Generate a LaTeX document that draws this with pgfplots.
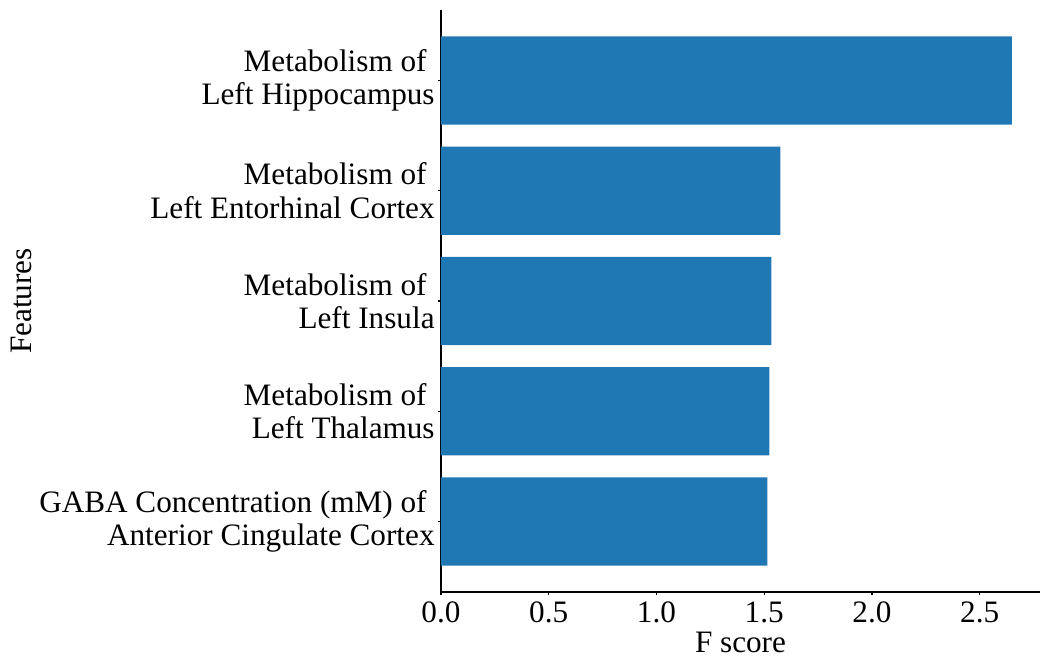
\documentclass[border=0pt]{standalone}
\usepackage{fontspec}
\setmainfont{Liberation Serif}
\usepackage{pgfplots}
\pgfplotsset{compat=1.18}
\definecolor{mplblue}{HTML}{1F77B4}
\newcommand{\lblfont}{\fontsize{15.6}{16.7}\selectfont}
\begin{document}
\begin{tikzpicture}
\begin{axis}[
  at={(0,0)}, anchor=south west,
  scale only axis,
  width=299.5pt, height=291pt,
  xmin=0, xmax=2.78,
  ymin=-0.64, ymax=4.64,
  axis lines*=left,
  axis line style={line width=0.6pt},
  xtick={0,0.5,1,1.5,2,2.5},
  xticklabels={0.0,0.5,1.0,1.5,2.0,2.5},
  ytick={0,1,2,3,4},
  yticklabels={
    {GABA Concentration (mM) of\kern4pt\\Anterior Cingulate Cortex},
    {Metabolism of\kern4pt\\Left Thalamus},
    {Metabolism of\kern4pt\\Left Insula},
    {Metabolism of\kern4pt\\Left Entorhinal Cortex},
    {Metabolism of\kern4pt\\Left Hippocampus}},
  yticklabel style={align=right, font=\lblfont, inner xsep=1.5pt},
  xticklabel style={font=\lblfont, inner sep=3.2pt},
  /pgf/number format/assume math mode=true,
  tick align=outside,
  tick pos=left,
  major tick length=1.5pt,
  tick style={line width=0.6pt, black},
  xlabel={F score},
  ylabel={Features},
  every axis x label/.style={at={(axis description cs:0.5,0)}, anchor=base, yshift=-30.5pt, font=\lblfont},
  every axis y label/.style={at={(axis description cs:-0.7012,0.5)}, rotate=90, anchor=center, font=\lblfont},
  xbar, bar width=0.8, bar shift=0pt,
]
\addplot[fill=mplblue, draw=none] coordinates {
  (2.649,4) (1.575,3) (1.533,2) (1.524,1) (1.515,0)};
\end{axis}
\pgfresetboundingbox
\useasboundingbox (-220.5pt,-33pt) rectangle (304.5pt,296pt);
\end{tikzpicture}
\end{document}
